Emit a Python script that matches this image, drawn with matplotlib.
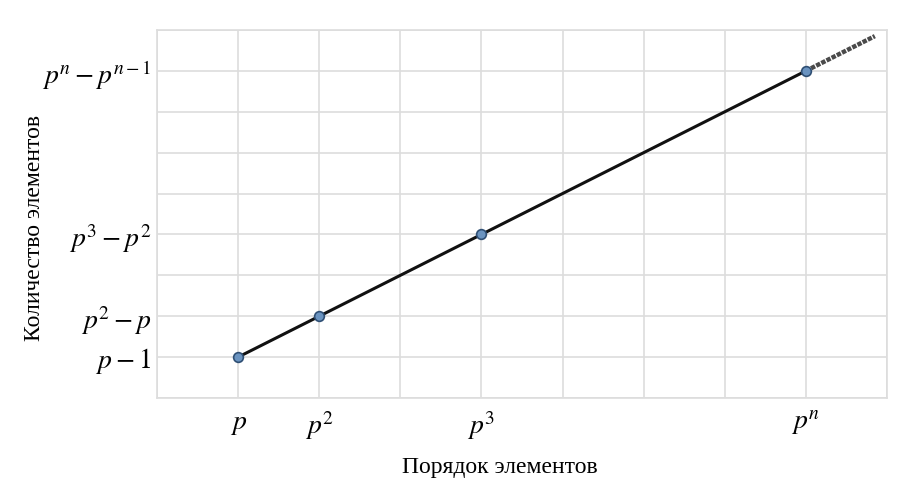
import matplotlib
matplotlib.use("Agg")
import matplotlib.pyplot as plt

plt.rcParams['mathtext.fontset'] = 'stix'

# Данные графика (в единицах сетки)
x_vals = [1, 2, 4, 8]
y_vals = [1, 2, 4, 8]
x_ext = [8, 8.85]   # продолжение линии за последнюю точку
y_ext = [8, 8.85]
x_labels = [r'$p$', r'$p^2$', r'$p^3$', r'$p^n$']
y_labels = [r'$p-1$', r'$p^2-p$', r'$p^3-p^2$', r'$p^n-p^{n-1}$']

fig = plt.figure(figsize=(9.11, 4.97), dpi=100)
ax = fig.add_axes([157/911, 1-398/497, 730/911, 368/497])

ax.set_xlim(0, 9)
ax.set_ylim(0, 9)
for s in ax.spines.values():
    s.set_color('#dddddd')
    s.set_linewidth(1.2)

# Подписи делений только в точках данных
ax.set_xticks(x_vals)
ax.set_xticklabels(x_labels, fontsize=20)
ax.set_yticks(y_vals)
ax.set_yticklabels(y_labels, fontsize=20)
ax.set_xticks([v for v in range(10) if v not in x_vals], minor=True)
ax.set_yticks([v for v in range(10) if v not in y_vals], minor=True)
ax.grid(True, which='both', color='#dddddd', linewidth=1.2)
ax.set_axisbelow(True)
ax.tick_params(which='both', length=0)
ax.tick_params(axis='x', pad=8)
ax.tick_params(axis='y', pad=4)

ax.plot(x_ext, y_ext, color='#4a4a4a', linewidth=3.2, linestyle=(0, (1, 0.3)), zorder=2)
ax.plot(x_vals, y_vals, color='#111111', linewidth=2.2, zorder=3)
ax.plot(x_vals, y_vals, linestyle='none', marker='o', markersize=7,
        markerfacecolor='#6a93c0', markeredgecolor='#2f4f74', markeredgewidth=1.2, zorder=4)

fig.text(500/911, 1-467/497, 'Порядок элементов', family='Liberation Serif',
         fontsize=17, ha='center', va='center')
fig.text(35/911, 1-228/497, 'Количество элементов', family='Liberation Serif',
         fontsize=17, ha='center', va='center', rotation=90)

fig.savefig('out.png', dpi=100)
